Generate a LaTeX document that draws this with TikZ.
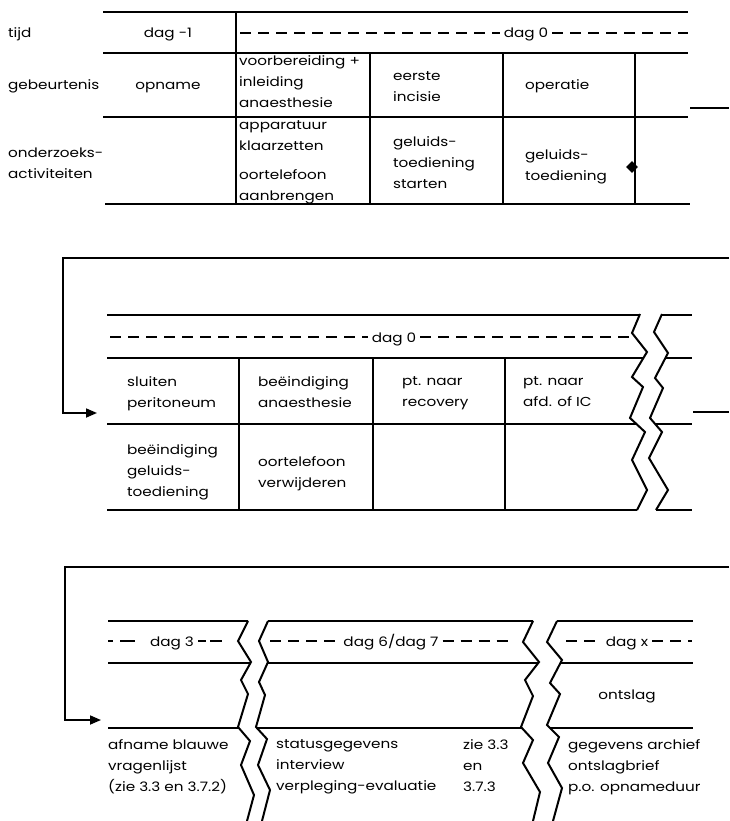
\documentclass[tikz,border=0pt]{standalone}
\usepackage{fontspec}
\setmainfont{Poppins}[FakeStretch=1.17]
\usetikzlibrary{arrows.meta,shapes.geometric}
\begin{document}
\begin{tikzpicture}[x=1pt,y=-1pt,
  rule/.style={line width=1.7pt},
  zig/.style={line width=2pt, line join=miter},
  dashrule/.style={line width=1.6pt, dash pattern=on 11pt off 7pt},
  conn/.style={line width=1.7pt},
  arr/.style={conn, -{Triangle[length=11pt,width=9pt]}},
  txt/.style={font=\fontsize{13}{21}\selectfont, inner sep=0pt, align=left, anchor=north west, execute at begin node=\strut},
  lbl/.style={font=\fontsize{13}{21}\selectfont, inner sep=0pt},
  daglbl/.style={lbl, inner xsep=4pt, anchor=base}
]
\useasboundingbox (0,0) rectangle (729,821);

% ---------------- table 1 ----------------
\draw[rule] (103,12) -- (688,12);
\draw[rule] (103,53) -- (688,53);
\draw[rule] (103,117) -- (688,117);
\draw[rule] (105,204) -- (690,204);
\draw[rule] (236,12) -- (236,204);
\draw[rule] (370,53) -- (370,204);
\draw[rule] (503,53) -- (503,204);
\draw[rule] (635,53) -- (635,204);

\node[lbl, anchor=base west] (tijd) at (8,38) {tijd};
\node[lbl, anchor=base west] (geb) at (8,90) {gebeurtenis};
\node[txt] (ond) at (8,148) {onderzoeks-\\activiteiten};
\node[lbl, anchor=base] (dagm1) at (168,38) {dag -1};
\node[lbl, anchor=base] (opname) at (168,90) {opname};
\node[txt] (voorb) at (239,55) {voorbereiding +\\inleiding\\anaesthesie};
\node[txt] (appar) at (239,120) {apparatuur\\klaarzetten};
\node[txt] (oortel) at (239,169) {oortelefoon\\aanbrengen};
\node[txt] (eerste) at (393,71) {eerste\\incisie};
\node[lbl, anchor=base west] (operatie) at (525,90) {operatie};
\node[txt] (gelst) at (393,136) {geluids-\\toediening\\starten};
\node[txt] (geltd) at (525,149) {geluids-\\toediening};
\node[daglbl] (dag0a) at (526,38) {dag 0};
\draw[dashrule] (240,33) -- (dag0a.west |- 0,33);
\draw[dashrule] (dag0a.east |- 0,33) -- (688,33);
\node[diamond, fill, inner sep=0pt, minimum width=12pt, minimum height=12pt] (mark) at (632,167) {};

% connector 1 -> 2
\coordinate (c1a) at (690,108);
\coordinate (c1b) at (729,108);
\draw[conn] (c1a) -- (c1b);
\coordinate (c2a) at (729,258);
\coordinate (c2b) at (63,258);
\coordinate (c2c) at (63,413);
\coordinate (c2d) at (97,413);
\draw[arr] (c2a) -- (c2b) -- (c2c) -- (c2d);

% ---------------- table 2 ----------------
\node[daglbl] (dag0b) at (394,342) {dag 0};
\begin{scope}
\clip (100,290) -- (640,290) -- (640,314) -- (632,333) -- (647,352) -- (632,377) -- (643,387) -- (630,418) -- (645,432) -- (632,460) -- (647,490) -- (637,510) -- (637,530) -- (100,530) -- cycle;
\draw[rule] (107,315) -- (700,315);
\draw[rule] (107,358) -- (700,358);
\draw[rule] (107,424) -- (700,424);
\draw[rule] (107,510) -- (700,510);
\draw[dashrule] (110,337) -- (dag0b.west |- 0,337);
\draw[dashrule] (dag0b.east |- 0,337) -- (700,337);
\end{scope}
\begin{scope}
\clip (662,290) -- (662,314) -- (654,332) -- (668,353) -- (655,378) -- (663,388) -- (650,418) -- (662,432) -- (649,458) -- (668,490) -- (656,510) -- (656,530) -- (729,530) -- (729,290) -- cycle;
\draw[rule] (640,315) -- (692,315);
\draw[rule] (640,358) -- (692,358);
\draw[rule] (640,424) -- (692,424);
\draw[rule] (640,510) -- (692,510);
\end{scope}
\draw[rule] (239,358) -- (239,510);
\draw[rule] (373,358) -- (373,510);
\draw[rule] (505,358) -- (505,510);
\draw[zig] (640,314) -- (632,333) -- (647,352) -- (632,377) -- (643,387) -- (630,418) -- (645,432) -- (632,460) -- (647,490) -- (637,510);
\draw[zig] (662,314) -- (654,332) -- (668,353) -- (655,378) -- (663,388) -- (650,418) -- (662,432) -- (649,458) -- (668,490) -- (656,510);

\node[txt] (sluiten) at (127,376) {sluiten\\peritoneum};
\node[txt] (beanaes) at (258,376) {beëindiging\\anaesthesie};
\node[txt] (recov) at (402,376) {pt. naar\\recovery};
\node[txt] (afd) at (523,376) {pt. naar\\afd. of IC};
\node[txt] (begel) at (127,444) {beëindiging\\geluids-\\toediening};
\node[txt] (oortverw) at (258,456) {oortelefoon\\verwijderen};

% connector 2 -> 3
\coordinate (c3a) at (693,412);
\coordinate (c3b) at (729,412);
\draw[conn] (c3a) -- (c3b);
\coordinate (c4a) at (729,567);
\coordinate (c4b) at (65,567);
\coordinate (c4c) at (65,720);
\coordinate (c4d) at (101,720);
\draw[arr] (c4a) -- (c4b) -- (c4c) -- (c4d);

% ---------------- table 3 ----------------
\node[daglbl] (dag3) at (172,646) {dag 3};
\node[daglbl] (dag67) at (391,646) {dag 6/dag 7};
\node[daglbl] (dagx) at (627,646) {dag x};
\begin{scope}
\clip (100,600) -- (248,600) -- (248,621) -- (238,641) -- (251,662) -- (241,680) -- (248,694) -- (238,727) -- (250,741) -- (241,765) -- (254,795) -- (247,821) -- (100,821) -- cycle;
\draw[rule] (108,621) -- (300,621);
\draw[rule] (108,663) -- (300,663);
\draw[rule] (108,728) -- (300,728);
\draw[dashrule, dash pattern=on 5pt off 7pt on 15pt off 20pt] (108,641) -- (dag3.west |- 0,641);
\draw[dashrule, dash pattern=on 8pt off 4pt on 12pt off 20pt] (dag3.east |- 0,641) -- (229,641);
\end{scope}
\begin{scope}
\clip (268,600) -- (268,621) -- (259,641) -- (268,662) -- (259,682) -- (265,695) -- (256,727) -- (267,739) -- (258,765) -- (270,790) -- (262,821) -- (533,821) -- (540,792) -- (523,763) -- (533,740) -- (521,727) -- (533,696) -- (525,680) -- (539,662) -- (523,642) -- (533,621) -- (533,600) -- cycle;
\draw[rule] (250,621) -- (560,621);
\draw[rule] (250,663) -- (560,663);
\draw[rule] (250,728) -- (560,728);
\draw[dashrule] (270,641) -- (dag67.west |- 0,641);
\draw[dashrule] (dag67.east |- 0,641) -- (514,641);
\end{scope}
\begin{scope}
\clip (557,600) -- (557,621) -- (547,642) -- (562,660) -- (550,683) -- (560,694) -- (547,725) -- (559,737) -- (548,763) -- (562,788) -- (553,821) -- (729,821) -- (729,600) -- cycle;
\draw[rule] (540,621) -- (693,621);
\draw[rule] (540,663) -- (693,663);
\draw[rule] (540,728) -- (693,728);
\draw[dashrule] (566,641) -- (dagx.west |- 0,641);
\draw[dashrule] (dagx.east |- 0,641) -- (692,641);
\end{scope}
\draw[zig] (248,621) -- (238,641) -- (251,662) -- (241,680) -- (248,694) -- (238,727) -- (250,741) -- (241,765) -- (254,795) -- (247,821);
\draw[zig] (268,621) -- (259,641) -- (268,662) -- (259,682) -- (265,695) -- (256,727) -- (267,739) -- (258,765) -- (270,790) -- (262,821);
\draw[zig] (533,621) -- (523,642) -- (539,662) -- (525,680) -- (533,696) -- (521,727) -- (533,740) -- (523,763) -- (540,792) -- (533,821);
\draw[zig] (557,621) -- (547,642) -- (562,660) -- (550,683) -- (560,694) -- (547,725) -- (559,737) -- (548,763) -- (562,788) -- (553,821);

\node[lbl, anchor=base] (ontslag) at (627,699) {ontslag};
\node[txt] (afname) at (108,739) {afname blauwe\\vragenlijst\\(zie 3.3 en 3.7.2)};
\node[txt] (status) at (276,739) {statusgegevens\\interview\\verpleging-evaluatie};
\node[txt] (zie) at (463,739) {zie 3.3\\en\\3.7.3};
\node[txt] (gegev) at (568,739) {gegevens archief\\ontslagbrief\\p.o. opnameduur};
\end{tikzpicture}
\end{document}
